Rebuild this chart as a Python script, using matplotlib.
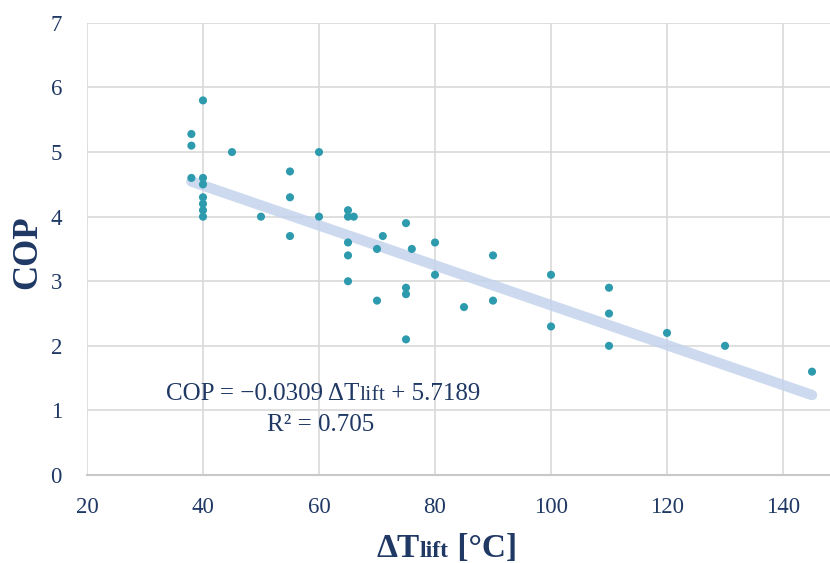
import matplotlib
matplotlib.use("Agg")
import matplotlib.pyplot as plt
import numpy as np

# data
dt_lift = [38, 38, 38, 40, 40, 40, 40, 40, 40, 40, 45, 50, 55, 55, 55,
           60, 60, 65, 65, 66, 65, 65, 65, 70, 70, 71, 75, 76, 75, 75, 75,
           80, 80, 85, 90, 90, 100, 100, 110, 110, 110, 120, 130, 145]
cop = [5.28, 5.1, 4.6, 5.8, 4.6, 4.5, 4.3, 4.2, 4.1, 4.0, 5.0, 4.0, 4.7, 4.3, 3.7,
       5.0, 4.0, 4.1, 4.0, 4.0, 3.6, 3.4, 3.0, 3.5, 2.7, 3.7, 3.9, 3.5, 2.9, 2.8, 2.1,
       3.6, 3.1, 2.6, 3.4, 2.7, 3.1, 2.3, 2.9, 2.5, 2.0, 2.2, 2.0, 1.6]
slope = -0.0309
intercept = 5.7189
r2 = 0.705

navy = '#1f3864'
plt.rcParams['font.family'] = ['Liberation Serif', 'DejaVu Serif']

fig = plt.figure(figsize=(8.3, 5.63), dpi=100)
ax = fig.add_axes([0.1048, 0.1563, 0.8952, 0.803])

# trend line
x_fit = np.array([min(dt_lift), max(dt_lift)])
ax.plot(x_fit, slope * x_fit + intercept, color='#c3d3ec', lw=7.5,
        solid_capstyle='round', alpha=0.85, zorder=2)

ax.scatter(dt_lift, cop, s=34, color='#2e9aae', edgecolors='none', zorder=3)

ax.set_xlim(20, 148.1)
ax.set_ylim(0, 7)
ax.set_xticks(range(20, 141, 20))
ax.set_yticks(range(0, 8))
ax.grid(True, color='#d9d9d9', lw=1.2, zorder=0)
ax.set_axisbelow(True)
for s in ['top', 'right', 'left']:
    ax.spines[s].set_visible(False)
ax.spines['bottom'].set_color('#c8c8c8')
ax.spines['bottom'].set_linewidth(1.5)
ax.tick_params(length=0, labelsize=16.5, labelcolor=navy)
ax.tick_params(axis='x', pad=16)
ax.tick_params(axis='y', pad=18)

ax.set_ylabel('COP', fontsize=25, fontweight='bold', color=navy)
ax.yaxis.set_label_coords(-0.058, 0.493)


def draw_pieces(x, y, pieces, transform):
    """lay out text runs of different sizes on one baseline, centred at x"""
    texts = [ax.text(x, y, t, fontsize=fs, fontweight=fw, color=navy,
                     transform=transform, va='baseline', ha='left', clip_on=False)
             for t, fs, fw in pieces]
    fig.canvas.draw()
    r = fig.canvas.get_renderer()
    widths = [t.get_window_extent(r).width for t in texts]
    base = transform.transform((x, y))
    x0_px = base[0] - sum(widths) / 2
    for t, w in zip(texts, widths):
        t.set_x(transform.inverted().transform((x0_px, base[1]))[0])
        x0_px += w


# equation and R² label
draw_pieces(60.7, 1.16, [('COP = \u22120.0309 \u0394T', 18, 'normal'), ('lift', 16, 'normal'),
                         (' + 5.7189', 18, 'normal')], ax.transData)
ax.text(60.3, 0.68, 'R\u00b2 = 0.705', fontsize=18, color=navy, ha='center', va='baseline')

# x label with smaller "lift"
draw_pieces(0.4845, -0.181,
            [('\u0394T', 24, 'bold'), ('lift', 17, 'bold'), (' [\u00b0C]', 24, 'bold')],
            ax.transAxes)

fig.savefig('out.png', dpi=100)
